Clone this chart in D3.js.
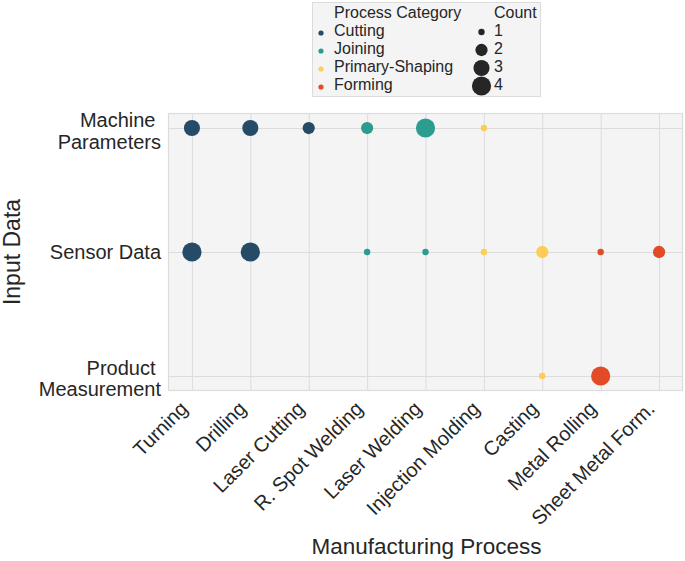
<!DOCTYPE html>
<html>
<head>
<meta charset="utf-8">
<script src="https://cdn.jsdelivr.net/npm/d3@7"></script>
<style>
  html, body { margin: 0; padding: 0; background: #ffffff; }
  svg { display: block; font-family: "Liberation Sans", Arial, sans-serif; }
</style>
</head>
<body>
<svg id="chart" width="685" height="561"></svg>
<script>
// ---------- data ----------
const processes = ["Turning", "Drilling", "Laser Cutting", "R. Spot Welding", "Laser Welding",
                   "Injection Molding", "Casting", "Metal Rolling", "Sheet Metal Form."];
const processCategory = ["Cutting", "Cutting", "Cutting", "Joining", "Joining",
                         "Primary-Shaping", "Primary-Shaping", "Forming", "Forming"];
const inputTypes = ["Machine Parameters", "Sensor Data", "Product Measurement"];
const inputLabels = [["Machine ", "Parameters"], ["Sensor Data"], ["Product ", "Measurement"]];
const categories = ["Cutting", "Joining", "Primary-Shaping", "Forming"];
const categoryColors = ["#264b66", "#2a9d8f", "#fdcd57", "#e24b26"];
const countLevels = [1, 2, 3, 4];

const obsProcess = ["Turning", "Drilling", "Laser Cutting", "R. Spot Welding", "Laser Welding", "Injection Molding",
                    "Turning", "Drilling", "R. Spot Welding", "Laser Welding", "Injection Molding", "Casting", "Metal Rolling", "Sheet Metal Form.",
                    "Casting", "Metal Rolling"];
const obsInput = ["Machine Parameters", "Machine Parameters", "Machine Parameters", "Machine Parameters", "Machine Parameters", "Machine Parameters",
                  "Sensor Data", "Sensor Data", "Sensor Data", "Sensor Data", "Sensor Data", "Sensor Data", "Sensor Data", "Sensor Data",
                  "Product Measurement", "Product Measurement"];
const obsCount = [3, 3, 2, 2, 4, 1,
                  4, 4, 1, 1, 1, 2, 1, 2,
                  1, 4];

// ---------- layout ----------
const svg = d3.select("#chart");
const plot = { left: 168, right: 683, top: 113, bottom: 391 };
const textColor = "#262626";

const x = d3.scalePoint().domain(processes).range([plot.left, plot.right]).padding(0.41);
const y = d3.scalePoint().domain(inputTypes).range([plot.top, plot.bottom]).padding(0.121);
const color = d3.scaleOrdinal().domain(categories).range(categoryColors);
const areaScale = d3.scaleLinear().domain([1, 4]).range([Math.PI * 3.2 * 3.2, Math.PI * 9.6 * 9.6]);
const radius = c => Math.sqrt(areaScale(c) / Math.PI);
const catOf = p => processCategory[processes.indexOf(p)];

// background
svg.append("rect")
  .attr("x", plot.left).attr("y", plot.top)
  .attr("width", plot.right - plot.left).attr("height", plot.bottom - plot.top)
  .attr("fill", "#f4f4f4");

// grid via axes
const gx = svg.append("g")
  .attr("transform", `translate(0,${plot.bottom})`)
  .call(d3.axisBottom(x).tickSize(-(plot.bottom - plot.top)).tickFormat(""));
gx.select(".domain").remove();
gx.selectAll(".tick line").attr("stroke", "#dcdcdc").attr("stroke-width", 1);

const gy = svg.append("g")
  .attr("transform", `translate(${plot.left},0)`)
  .call(d3.axisLeft(y).tickSize(-(plot.right - plot.left)).tickFormat(""));
gy.select(".domain").remove();
gy.selectAll(".tick line").attr("stroke", "#dcdcdc").attr("stroke-width", 1);

// frame
svg.append("rect")
  .attr("x", plot.left + 0.5).attr("y", plot.top + 0.5)
  .attr("width", plot.right - plot.left - 1).attr("height", plot.bottom - plot.top - 1)
  .attr("fill", "none").attr("stroke", "#dcdcdc").attr("stroke-width", 1.2);

// x tick labels
svg.append("g").selectAll("text")
  .data(processes).join("text")
  .attr("transform", d => `translate(${x(d) - 3},${plot.bottom + 19}) rotate(-45)`)
  .attr("text-anchor", "end")
  .attr("font-size", 20)
  .attr("fill", textColor)
  .text(d => d);

// y tick labels
const yl = svg.append("g").selectAll("text")
  .data(inputTypes).join("text")
  .attr("text-anchor", "end")
  .attr("font-size", 20)
  .attr("fill", textColor);
yl.each(function(d, i) {
  const lines = inputLabels[i];
  const t = d3.select(this);
  const lh = 21.5;
  const y0 = lines.length > 1 ? y(d) - 1 : y(d) + 7;
  lines.forEach((ln, j) => {
    t.append("tspan")
      .attr("x", plot.left - 7 - (ln.endsWith(" ") ? 5.5 : 0))
      .attr("y", y0 + j * lh)
      .text(ln.trim());
  });
});

// axis titles
svg.append("text")
  .attr("x", (plot.left + plot.right) / 2 + 1).attr("y", 554)
  .attr("text-anchor", "middle").attr("font-size", 22.5).attr("fill", textColor)
  .text("Manufacturing Process");
svg.append("text")
  .attr("transform", `translate(20,${(plot.top + plot.bottom) / 2}) rotate(-90)`)
  .attr("text-anchor", "middle").attr("font-size", 23).attr("fill", textColor)
  .text("Input Data");

// points
const pts = obsProcess.map((p, i) => ({ p, inp: obsInput[i], c: obsCount[i] }));
svg.append("g").selectAll("circle")
  .data(pts).join("circle")
  .attr("cx", d => x(d.p)).attr("cy", d => y(d.inp))
  .attr("r", d => radius(d.c))
  .attr("fill", d => color(catOf(d.p)));

// legend
const lg = svg.append("g");
lg.append("rect")
  .attr("x", 312.5).attr("y", 2.5).attr("width", 228).attr("height", 94)
  .attr("fill", "#f4f4f4").attr("stroke", "#dcdcdc").attr("stroke-width", 1);
const rowY = [18, 36, 54, 72, 90];
lg.append("text").attr("x", 334).attr("y", rowY[0])
  .attr("font-size", 16).attr("fill", textColor).text("Process Category");
categories.forEach((c, i) => {
  lg.append("circle").attr("cx", 321).attr("cy", rowY[i + 1] - 3).attr("r", 2.6).attr("fill", color(c));
  lg.append("text").attr("x", 334).attr("y", rowY[i + 1])
    .attr("font-size", 16).attr("fill", textColor).text(c);
});
lg.append("text").attr("x", 494).attr("y", rowY[0])
  .attr("font-size", 16).attr("fill", textColor).text("Count");
countLevels.forEach((c, i) => {
  lg.append("circle").attr("cx", 481.5).attr("cy", rowY[i + 1] - 4).attr("r", radius(c)).attr("fill", "#262626");
  lg.append("text").attr("x", 494).attr("y", rowY[i + 1])
    .attr("font-size", 16).attr("fill", textColor).text(c);
});
</script>
</body>
</html>
